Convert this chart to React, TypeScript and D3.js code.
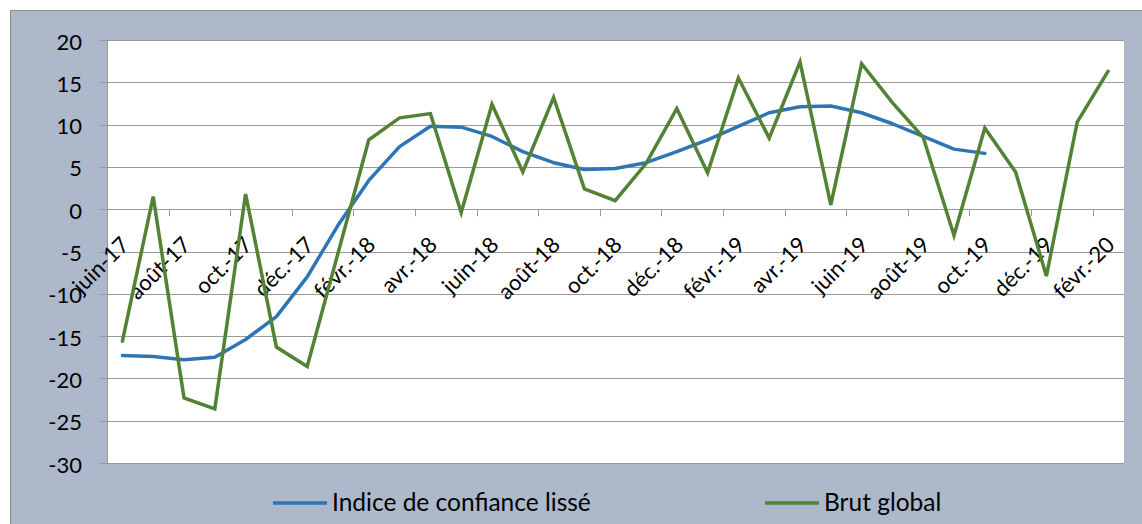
import React from "react";
import * as d3 from "d3";

const categories = [
  "juin-17", "juil.-17", "août-17", "sept.-17", "oct.-17", "nov.-17", "déc.-17",
  "janv.-18", "févr.-18", "mars-18", "avr.-18", "mai-18", "juin-18", "juil.-18", "août-18", "sept.-18", "oct.-18", "nov.-18", "déc.-18",
  "janv.-19", "févr.-19", "mars-19", "avr.-19", "mai-19", "juin-19", "juil.-19", "août-19", "sept.-19", "oct.-19", "nov.-19", "déc.-19",
  "janv.-20", "févr.-20",
];

const indiceLisse: (number | null)[] = [
  -17.3, -17.4, -17.8, -17.5, -15.4, -12.7, -8.0,
  -1.9, 3.4, 7.4, 9.8, 9.7, 8.6, 6.8, 5.5, 4.7, 4.8, 5.5, 6.8,
  8.2, 9.8, 11.4, 12.1, 12.2, 11.4, 10.1, 8.6, 7.1, 6.6, null, null,
  null, null,
];

const brutGlobal: number[] = [
  -15.6, 1.5, -22.3, -23.6, 1.8, -16.3, -18.6,
  -5.2, 8.2, 10.8, 11.3, -0.4, 12.4, 4.4, 13.2, 2.4, 1.0, 5.4, 11.9,
  4.3, 15.5, 8.4, 17.4, 0.5, 17.2, 12.6, 8.5, -3.1, 9.6, 4.4, -7.9,
  10.3, 16.3,
];

const yTicks = [-30, -25, -20, -15, -10, -5, 0, 5, 10, 15, 20];

const seriesNames = ["Indice de confiance lissé", "Brut global"];
const seriesColors = ["#2e75b6", "#548235"];

const FONT = "Lato, 'Open Sans', sans-serif";

export default function App() {
  const W = 1142;
  const H = 524;
  const plot = { left: 107, right: 1124, top: 40, bottom: 463 };

  const x = d3
    .scaleBand<string>()
    .domain(categories)
    .range([plot.left, plot.left + 33 * 30.8])
    .paddingInner(0)
    .paddingOuter(0);
  const bw = x.bandwidth();
  const cx = (c: string) => (x(c) as number) + bw / 2;

  const y = d3.scaleLinear().domain([-30, 20]).range([plot.bottom, plot.top]);

  const lineBlue = d3
    .line<number | null>()
    .defined((d) => d !== null)
    .x((_, i) => cx(categories[i]))
    .y((d) => y(d as number));

  const lineGreen = d3
    .line<number>()
    .x((_, i) => cx(categories[i]))
    .y((d) => y(d));

  const y0 = y(0);
  const gridColor = "#9a9a9a";
  const axisFont = 22;
  const xFont = 22;
  const legendFont = 24.5;

  return (
    <svg
      width={W}
      height={H}
      style={{ position: "absolute", left: 0, top: 0, display: "block" }}
    >
      <rect x={0} y={0} width={W} height={H} fill="#ffffff" />
      <rect x={10.5} y={10.5} width={W} height={H} fill="#adb9ca" stroke="#8c8c8c" strokeWidth={1} />
      <rect
        x={plot.left}
        y={plot.top}
        width={plot.right - plot.left}
        height={plot.bottom - plot.top}
        fill="#ffffff"
      />
      {yTicks.map((t) => (
        <g key={t}>
          <line
            x1={plot.left - 8}
            x2={plot.right}
            y1={Math.round(y(t)) + 0.5}
            y2={Math.round(y(t)) + 0.5}
            stroke={gridColor}
            strokeWidth={1}
          />
          <text
            x={82}
            y={y(t) + 1}
            textAnchor="end"
            dominantBaseline="central"
            fontFamily={FONT}
            fontSize={axisFont}
            fill="#000"
          >
            {t}
          </text>
        </g>
      ))}
      <line
        x1={plot.left + 0.5}
        x2={plot.left + 0.5}
        y1={plot.top}
        y2={plot.bottom}
        stroke={gridColor}
        strokeWidth={1}
      />
      {categories.map((c, i) =>
        i > 0 && i % 2 === 0 ? (
          <line
            key={"t" + c}
            x1={Math.round(x(c) as number) + 0.5}
            x2={Math.round(x(c) as number) + 0.5}
            y1={y0}
            y2={y0 + 7}
            stroke={gridColor}
            strokeWidth={1}
          />
        ) : null
      )}
      {categories.map((c, i) =>
        i % 2 === 0 ? (
          <text
            key={"l" + c}
            transform={`translate(${cx(c) + 2},${y0 + 31}) rotate(-45)`}
            textAnchor="end"
            dominantBaseline="central"
            fontFamily={FONT}
            fontSize={xFont}
            fill="#000"
          >
            {c}
          </text>
        ) : null
      )}
      <path
        d={lineBlue(indiceLisse) || ""}
        fill="none"
        stroke={seriesColors[0]}
        strokeWidth={3.5}
        strokeLinejoin="round"
        strokeLinecap="round"
      />
      <path
        d={lineGreen(brutGlobal) || ""}
        fill="none"
        stroke={seriesColors[1]}
        strokeWidth={3.5}
        strokeLinejoin="miter"
        strokeLinecap="round"
      />
      {/* Legend */}
      <g>
        <line x1={273} x2={327} y1={503} y2={503} stroke={seriesColors[0]} strokeWidth={3.5} />
        <text x={332} y={511} fontFamily={FONT} fontSize={legendFont} fill="#000">
          {seriesNames[0]}
        </text>
        <line x1={765} x2={819} y1={503} y2={503} stroke={seriesColors[1]} strokeWidth={3.5} />
        <text x={824} y={511} fontFamily={FONT} fontSize={legendFont} fill="#000">
          {seriesNames[1]}
        </text>
      </g>
    </svg>
  );
}
